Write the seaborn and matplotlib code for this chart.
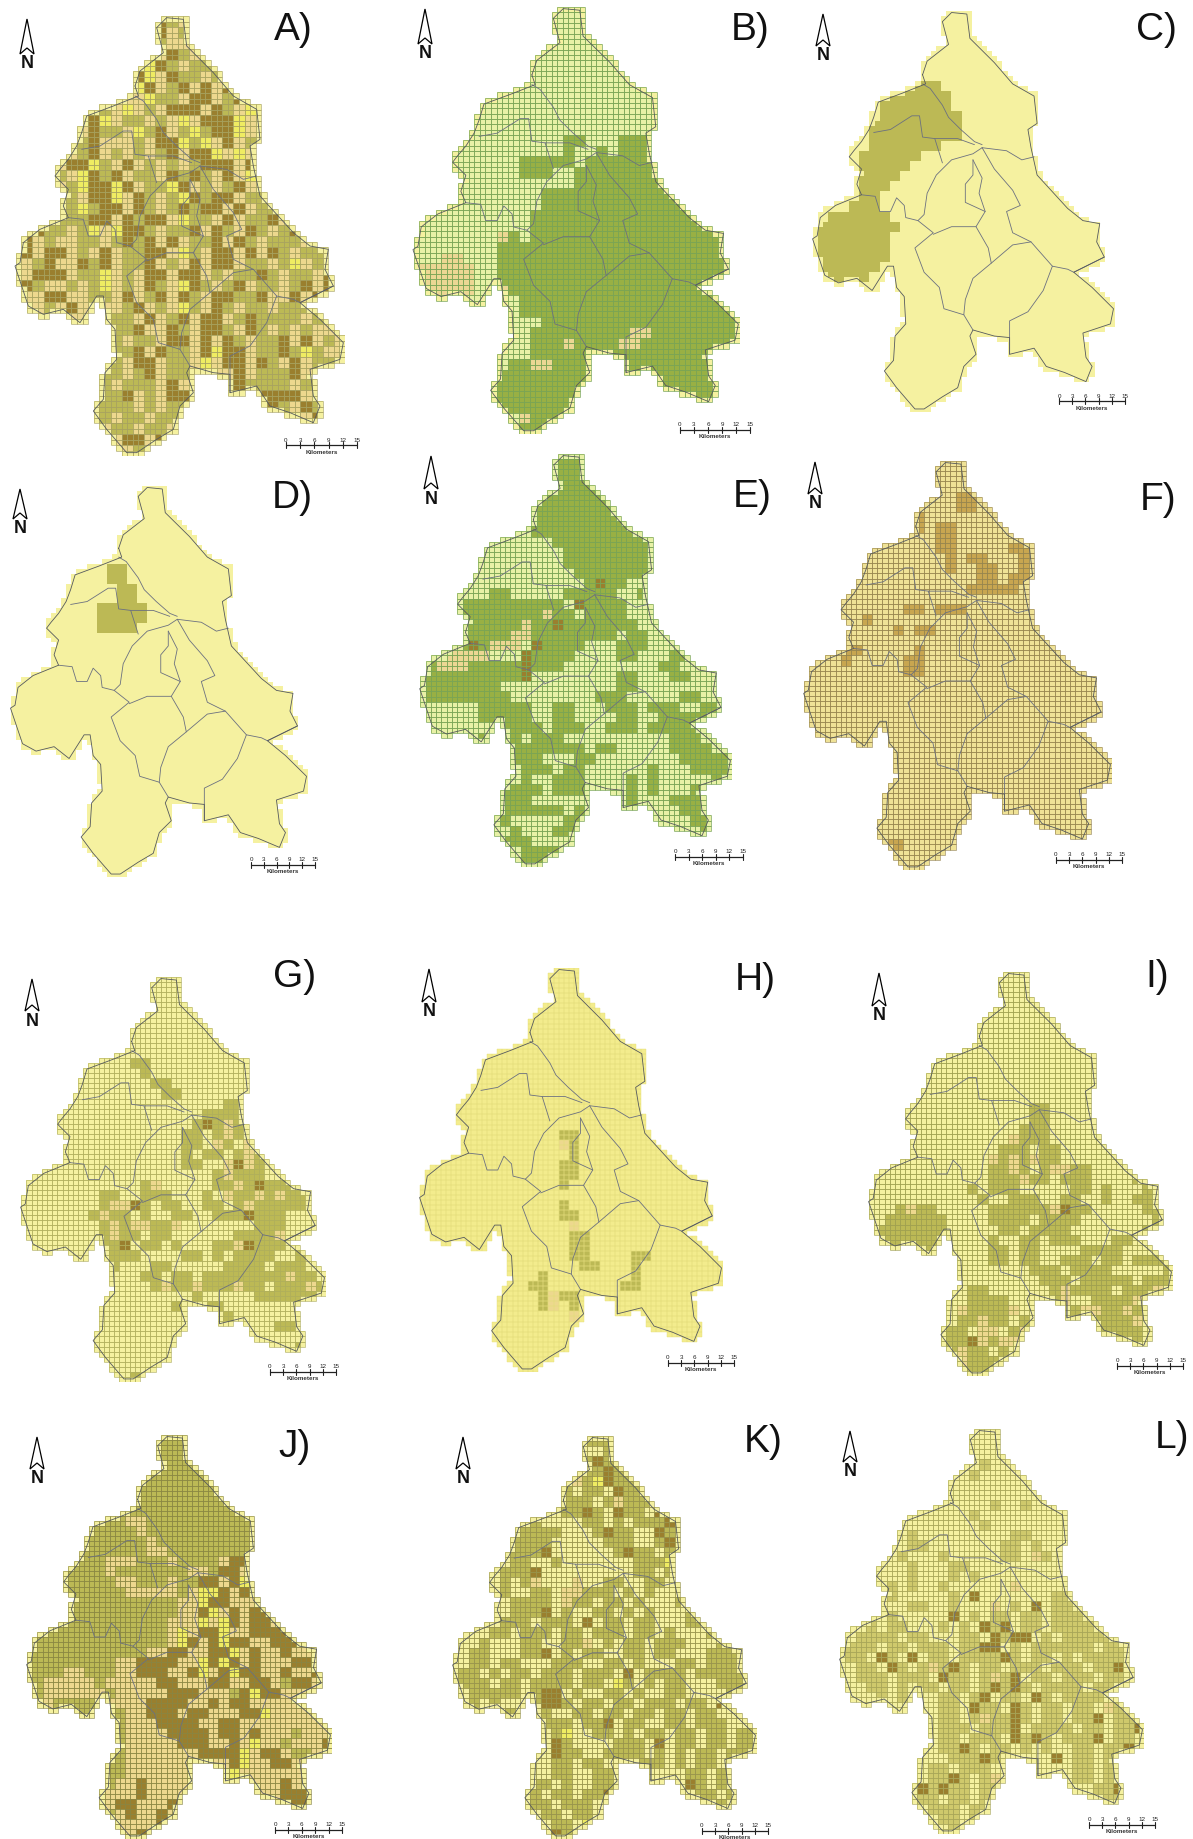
import numpy as np
import matplotlib
matplotlib.use("Agg")
import matplotlib.pyplot as plt
from matplotlib.colors import ListedColormap
from matplotlib.collections import LineCollection
from matplotlib.path import Path
import seaborn as sns

sns.set_theme(style="white")
plt.rcParams['font.family'] = ['Liberation Sans', 'DejaVu Sans']

# ---- class codes (coarse cells, 30 columns by 40 rows; '.' = panel base class)
CODES = "payobelgtfchn"
COLOURS = ["#f5f1a0", "#edd88e", "#efec62", "#bcb955", "#9a7f2e", "#c9a34f", "#e8f1a6", "#98b044",
           "#ecd793", "#efe296", "#c8a650", "#f3ec8d", "#cfc96c"]

ROWS_A = [
".............bo", ".............b.o", ".............o", "..............bo.o", "............ybo.oo",
"...........by.boo.oo", "...........yb.ob.b.b", ".........o..yoo.bb.ob", ".......oo.y.o.bbb.bo.y",
".......by.oo.o.y.bbby", ".......boo.yob.oyobby", "......ob...o.bbyoy.b.o", "......ob.o.o.ob.bby.y",
".....bbyo.b.o.o.obbb.bo", "....o.ybob.oo.bobo.b.yb", ".....oybbyb.ooyb.o.ob.oo", ".....o.bby.bo.oybobb.ooo",
".....oyobb.bo.obobb.b.oo", "....ooobb.bobb.yoo.b.oob.o", "..boo.oy.ybbo.oob.bo.bo.ob",
".b.o..oo.obob.b.oob.bo.ooo.b", ".b.bb.o.b.oobb.yo.bb.b.bo.oo", "..ob..bob.oob.o.b.bb.oo.oy.ob",
"..bbb.ooy.o.bb.bb.o.oobo.oo.b", ".bo..o.oy.o.bo.ybo.ob.oo.ob.b", "...bb..oo.b.ob.bo.bboob..b.bb",
"...o.b.o..ob.o.yo.bo.oo.ooo.o", ".......o.oo.b.ob.bb.oboooo.o", ".........oob..bo.bbo.bo.o.o",
".........o.oo.bb.b.bo.oob.b.o", ".........oob.boo.bybb.ooboyo..", ".........o.bb.oo.y.bb.bo.b.oo",
"........oo.ob.oob...b.ooob.o", "........o.ooo.b...o.boooo.oo", "........oob.o.bb....b.bbbb.o",
"........ooo.o.oo.......bo.boo", "........o.oo.ooo........oo.bo", ".........oo.oo.o", "..........bb.bo", "...........o",
]
ROWS_B = [""] * 12 + [
"..............gg...ggg", "..............g..g.ggg", "..........ggggg.ggggggg", "..........ggg..gggggggg",
"...............ggggggggggggggg", "............gggggggggggggggggg", "............gggggggggggggggggg",
"...........ggggggggggggggggggg", "...........ggggggggggggggggggg", "........tg.ggggggggggggggggggg",
"........gggggggggggggggggggggg", "...tt...gggggggggggggggggggggg", ".ttttt..gggggggggggggggggggggg",
".ttttt..gggggggggggggggggggggg", "..tttt..tggggggggggggggggggggg", "..........gggggggggggggggggggg",
"..........gggggggggggggggggggg", "............gggggggggggggggggg", "...........gggggggggttgggggggg",
"...........gggtggggttggggggggg", "...........ggggggggggggggggggg", ".........ggttggggggggggggggggg",
"........gggggggggggggggggggggg", "gggggggggggggggggggggggggggggg", "gggggggggggggggggggggggggggggg",
"gggggggggggggggggggggggggggggg", "..........tggggggggggggggggggg", "gggggggggggggggggggggggggggggg",
]
ROWS_C = [""] * 7 + [
"..........ooo", "........oooooo", ".......ooooooo", ".......oooooooo", "......ooooooooo", "......ooooooooo",
"......ooooooo", ".....oooooo", ".....ooooo", ".....oooo", ".....ooo", ".....oo", "....ooo", "..oooooo",
".oooooooo", "oooooooo", "oooooooo", "oooooooo", ".oooooo", "..oooo", "...oo",
]
ROWS_D = [""] * 8 + [
"..........oo", "..........oo", "...........oo", "...........oo", ".........ooooo", ".........ooooo", ".........oooo",
]
ROWS_E = ["g" * 30] * 7 + [
"...........ggggggggggggggggggg", ".............ggggggggggggggggg", "..............gggggggggggggggg",
"..............gggggggggggggggg", "...............ggggggggggggggg", "................gbgg.....gg",
".......gg.....ggggg..gggg", "....gggggggggg.bgggg..gggg", "....ggggggggtgg.gggg....gggg",
"....ggggggtggbggggggg....ggggg", "....gggggttgggggggg.gg...ggggg", "....gbgttt.bgggg...ggg...gggggg",
"...tttt...bgggg....gg...ggg", ".gtttgggggbggg.........gg", "ggggggggggb........gg...gg",
"gggggggg...........gg", "ggggggggg........ggg.....gg", "......ggggg..gg...ggg.ggg..gggg",
"......ggggg..gg....gg..gggggg", ".......ggggg.ggg..ggg.gggggg", "......gggg.ggg..........ggg.ggg",
".........ggggggg.gg.....gggg", ".........ggg...gg........ggggg", "..........ggg.gg......g...ggggg",
"..........g..ggg....g.g.....ggg", "........gggg.gggg...g.g...ggg", "........ggg.....gg..g...gggg",
"........gggggg.ggg.......ggg", "........g.....gg..........gggg", ".........g...gg............gg",
"........ggg.....g", "..........ggggg", ".........ggggg",
]
ROWS_F = ["", "", "", "...............cc", "...............cc", "...........c", "...........c.cc", ".............cc",
".............cc.....ccc", "..............c.cc...cc", "..............c..cc..cc", ".................cc.cc",
"................ccccc", "", "..........cc.ccc", "......c", ".........c.cc", "", "....cc.....c", "....c.....cc",
"..........cc", "", "", "", "", "", "", "", "", "", "", "", "", "", "", "", "", "........cc",
]
ROWS_G = [""] * 8 + [
"...........oo", "............o", ".............oo", "..............oo",
"....................oo", "..................oooo", ".................oboao.o", "................oo.oaob",
"................oo.ao.aao", "................o.oo.oao", "................oo..abao", "...................oaooo",
"............oa.....ooaobooo", "........oo..ooo...o.aooaoaoo", "........oaabo.oo..oo.oaooooo",
".......oaoo.o..oo..ooobooo", "........oaoaaooa.......ooo", "........oaoo.oo......ooooa",
"........oob.oo.o...ooabooo.oo", "........oooo....oo.o.oooo..oo", ".........o...oo.....oooo.ooo",
"............oo.oo.ooooooooaoo", ".............oaooaoooaoo.oooao", ".................o.....oooooo",
"...............oo.oo.........o", "...................oo", "...................oa....oo", "...................o",
"...........................oo", "", "", "...........oo",
]
ROWS_H = [""] * 16 + [
"..............oo", "..............ao", "...............o", "..............oo", "..............oo", "..............o",
"", "..............o", "..............oo", "...............a", "...............oo", "...............oo",
"...............oo....oo", "................oo...o", "............o........o", "...........oo.......oo",
"............oaooa", "............oa.oo", "...............ao",
]
ROWS_I = [""] * 13 + [
"................oo", "................oo", "...............ooo", "..............aooo",
".............ooo.oo", "............aoaoaoo", "............ooao.oaaoo", "............oooaoo.ooo....o",
"..........o.ooo.....oo.o...oo", "...........o..ooo..oo..o..oooo", "...oaoo.....ooooooaboo.....ooo",
"..oooooo....oooo.oooo.......oo", ".ooooooo.....oo.oooo.......oooo", ".oooooo.....o..oo.ooo...oo.ooo",
"..ooo.oo....oo.oo....oooo", "............oo.oo..ooo.oo.ooo", "................ooo.oooo.....o",
".................ooo.ooooo.ooo", "..........oo......oaoooo.oooao", "..........oooo....oa..ooooaooo",
".........aooooa.oaoooaaooaoooo", ".........ooaoo.oooooaoooooa", "........oo.aa.oa...aoaooooo",
"........oobaoaa....oooooooo", "........oaoo.o......oooooooo", "........oaooo.........oooooo",
"..........oooaooa..........ooo", "...........oooo",
]
ROWS_J = ["", "", "", "", "", "", "", "", "..........aa", "...........a", "............a", "............aa",
"........aaa...a....abbbba", "........a.......aa.bbaabbb", ".........aa...a..bbabyaybb.a",
"..........aaaaa.ayybababbba", "...............aaybbaaabbba", "...............aabyababbaaa",
"..............aaayaybabbaaaa", "..............ayabbyaabbbbaaa", "..............aybabybbaabbbaaa",
"............aabbaabbyabaabaaaa", ".........aabbbbaaybybabaaabbaa", "....aa...aabbbaabyabybbaabaaba",
"..aaaaa.aaaaabbaaabbaabbaobbaa", "..aaaaaa.aaaaabbbaaaobybbaaaba", "..a.....aaaabbbbaababbaaaaaaa",
"..........aabbbabbaaabbyaaaaaa", "..........aaabbbbaabbaaaaaaaaa", "..........aaaabbbbabbabaaaoaaa",
"..........aaaaabbbaabayaaoaaab", "..........aaaaaaabbbbyabbaooaa", "..........aaaaaaaaaabyaabbaaoa",
"..........aaaaaaaaaayaaaaaa", ".........aabaaaa.....aaaabaa", "........aaabaaaabaa...aaabbbaa",
"........abbaaabayba...ababbbba", ".........abaabaaby.......abbaa", ".........aaaababaa", "..........abbaa",
]
ROWS_K = [
"............booo", "............o..o", ".............obo", "............ooobo", "...........oaoyboo", "...........o.oo.boo",
"...........ooo.oaoooo", "...........oobo.boo.bo", ".......oo....oo.o.ooob", ".......oooo...oboo..bob", "......oooo.....ooo..oboa",
"......ooob......oboo.ooob", "......oo..o.......oooyoob", ".....ooob.........oo.o.oo", ".....o.oa...a..oo..oo.oa",
".....o..oo.aaooo.o.o..oo", "......oooo.aoo.oo.o...oooo", "......ooob.o..oo.o.o...ob", ".....ooo.ooo.b.oo.oo...oo",
"....oo.ooo.oo.ooo.oo.o...oo", "...o...oo..ooa.o.oo.ooo...oob", "..oo...oob.o.oo..oo.oo...ooo", "..oo.oo...ooo..oo.o...oo.oooob",
".oo.o.oo.ooo.ooo.b.oooo.ooooo", ".ooo.oo.oooo.oo.yo.o.oo...ooo", "..ooooo.obb.o..oo.o..oo....oo", "..o.o..oobbo.oo.oo.ooo.oo.bo",
"...oooo.oo..oo.oo.oo.oo.oo", ".....o..oooo.oob.oo..oo.ooo", "..........oy..oo.o.oo.oo.oo.oo", "..........bo....ooo.b.oo.oo.oo",
"..........boo..oooo.o.o.oo.ooo", "..........oo.oo..oooo.o.oo.oo", "..........oo..oo.......oo.oo", "........oo.o..oo.......bo.oo",
"........o.oo.oobo.....o.oo.oo", "........oo.ooo.oo........oo.oo", ".........oo.oo.oo", "..........oo.yo", "..........bo",
]
ROWS_L = [
"", "", "", "..............n", ".............n", "", "", "...............n..n", ".............n", "..............n",
".......n.........nn", ".......nn.......nn.n", "......n...n.....nn.an", ".......n...nn..........nn", ".......n...n.n.........bb",
".....n.n..n......a....nba", ".....n.....n.b.......nnn", ".......nn..n...a.n.b.nn.b", ".....n.....b.n.nn.nn.nnn", "...n.nn...n.n.bnb.nn.nnnn",
"..nnnn.nn...nn.bnbb.n.nnnnnn", ".nnn.nn.nnn.nnbb.n.nnnnnn.nn", ".nn.bn.b.nn.nnnnbn.nn.n.nnnn", "..nn.bn.nanbn.nn.nnn.nnn.nnb",
"..nnn.nnn.bnn.nanb.nn.nnn.nn", "...nn.n.nn.nn.nbnbn.nnnn.nn.n", "....n.nn..nn.nb.nn.bn.nnnn", "..........nn.bnn.bn.nn.nn.an",
"..........nn.nannbn.nn.nnb.nn", "..........nnn.nnnb.nnnn.nn.nnb", "..........nn.nnn.bnbn.nnnb.nn", "..........nnbn.nn.n.n..nn.nnb",
"...........nnnbn.n...b.nn.nn", ".........nn.nnn.nn.....nn.nnn", ".........nnbn.nabn.....nn.nnb", "........bnbnn.nn.........nnbn",
"........nn.nn.nn.........nnn", ".........nnn.nn", "..........nn.n", "...........n",
]
PANEL_ROWS = [ROWS_A, ROWS_B, ROWS_C, ROWS_D, ROWS_E, ROWS_F, ROWS_G, ROWS_H, ROWS_I, ROWS_J, ROWS_K, ROWS_L]
PANEL_NAMES = ["A)", "B)", "C)", "D)", "E)", "F)", "G)", "H)", "I)", "J)", "K)", "L)"]
PANEL_BASE = list("alpplfphpopp")
PANEL_FRINGE = list("pppplfphpppp")

# ---- outline and district borders, read in the coordinates of the crop of panel A
OUTLINE_X = [405, 415, 340, 260, 245, 230, 205, 180, 165, 205, 190, 205, 120, 70, 60, 45, 65, 85, 130, 190, 240, 290, 310, 320, 345,
             350, 315, 310, 280, 320, 380, 410, 470, 520, 540, 580, 560, 570, 640, 690, 690, 770, 810, 870, 940, 960, 940, 930, 1020,
             1030, 960, 900, 1000, 975, 985, 930, 880, 780, 760, 750, 780, 770, 700, 640, 560, 550, 500, 470, 490, 420]
OUTLINE_Y = [260, 290, 320, 350, 400, 440, 480, 510, 530, 570, 620, 655, 690, 730, 790, 800, 860, 920, 945, 930, 970, 890, 890, 960, 990,
             1080, 1120, 1200, 1235, 1290, 1360, 1360, 1320, 1290, 1220, 1180, 1120, 1100, 1120, 1125, 1180, 1160, 1220, 1240, 1270, 1220,
             1190, 1110, 1080, 1030, 960, 910, 860, 810, 750, 740, 700, 590, 500, 440, 420, 330, 290, 220, 140, 60, 55, 85, 160, 215]
BORDER_X = [[405, 430, 470, 490, 530, 575, 600], [245, 300, 370, 395, 405, 445, 520, 575], [445, 470],
            [600, 570, 500, 450, 420, 410, 390], [205, 250, 265, 300, 320, 345, 350, 390, 440, 380, 410, 460, 475, 540],
            [440, 500, 540, 580, 620, 630, 570, 545, 540, 570], [630, 700, 760, 830, 800, 750, 690, 690],
            [600, 640, 700, 725, 680, 700, 760], [600, 680, 730, 770], [570, 570, 545, 545, 610, 580],
            [830, 880, 900, 1000], [570, 600, 590, 610]]
BORDER_Y = [[290, 305, 360, 400, 440, 480, 490], [450, 440, 395, 395, 465, 470, 470, 490], [470, 550],
            [500, 520, 540, 590, 650, 720, 740], [655, 660, 710, 710, 665, 690, 730, 740, 780, 830, 910, 960, 1030, 1050],
            [785, 760, 760, 760, 830, 880, 930, 1000, 1050, 1100], [880, 820, 810, 890, 970, 1040, 1070, 1180],
            [500, 570, 640, 690, 710, 780, 810], [500, 510, 540, 530], [540, 590, 620, 680, 710, 760],
            [890, 900, 910, 860], [540, 600, 650, 710]]
SCALE_LABELS = ["0", "3", "6", "9", "12", "15"]

# ---- layout and style (pixels of the 1193x1840 picture)
BOXES = [(10, 17, 345, 457), (408, 8, 740, 435), (808, 12, 1115, 413), (6, 487, 308, 878),
         (415, 455, 732, 868), (799, 462, 1112, 871), (16, 978, 326, 1383), (415, 969, 723, 1373),
         (864, 973, 1173, 1377), (22, 1436, 332, 1840), (448, 1437, 757, 1840), (835, 1430, 1144, 1835)]
GRID_COL = ["#a8a360", "#7aa555", "#f0eb96", "#f0eb96", "#7aa555", "#96854e",
            "#b0af5c", "#e6de7c", "#a0a050", "#8a8642", "#98944c", "#a8a658"]
GRID_LW = [0.45, 0.5, 0, 0, 0.5, 0.45, 0.45, 0.3, 0.45, 0.45, 0.45, 0.45]
LABEL_POS = [(293, 30), (750, 30), (1156, 30), (292, 498), (752, 497), (1158, 500),
             (295, 977), (755, 980), (1157, 977), (295, 1447), (763, 1442), (1172, 1438)]
ARROWS = [(27, 20, 55), (425, 10, 45), (823, 15, 47), (20, 490, 520), (431, 457, 490), (815, 463, 495),
          (32, 980, 1012), (429, 970, 1003), (879, 974, 1007), (37, 1438, 1470), (463, 1438, 1470), (850, 1432, 1463)]
SCALES = [(286, 357, 446), (680, 750, 431), (1059, 1125, 402), (251, 315, 866), (675, 743, 858), (1056, 1122, 861),
          (270, 336, 1373), (668, 734, 1364), (1117, 1183, 1367), (275, 342, 1831), (702, 768, 1832), (1089, 1155, 1826)]

W, H = 1193, 1840
NCOL, NROW = 60, 80
fig = plt.figure(figsize=(W / 100, H / 100), dpi=100, facecolor="white")
cmap = ListedColormap(COLOURS)


def to_x(v):
    return (np.asarray(v, float) - 30) / 1005 * NCOL


def to_y(v):
    return (np.asarray(v, float) - 50) / 1320 * NROW


outline = Path(np.column_stack([to_x(OUTLINE_X), to_y(OUTLINE_Y)]))
gx, gy = np.meshgrid(np.arange(NCOL + 1), np.arange(NROW + 1))
corners = outline.contains_points(np.column_stack([gx.ravel(), gy.ravel()])).reshape(gx.shape)
count = corners[:-1, :-1].astype(int) + corners[1:, :-1] + corners[:-1, 1:] + corners[1:, 1:]
outside = count == 0
fringe = (count > 0) & (count < 3)

# cell edges of the silhouette, used for the grid that overlays the cells
segments = []
for ry in range(NROW):
    for cx in range(NCOL):
        if not outside[ry, cx]:
            segments += [[(cx, ry), (cx + 1, ry)], [(cx, ry + 1), (cx + 1, ry + 1)],
                         [(cx, ry), (cx, ry + 1)], [(cx + 1, ry), (cx + 1, ry + 1)]]

for i, rows in enumerate(PANEL_ROWS):
    l, t, r, b = BOXES[i]
    ax = fig.add_axes([l / W, 1 - b / H, (r - l) / W, (b - t) / H])
    base = PANEL_BASE[i]
    padded = ([(s + "." * 30)[:30] for s in rows] + ["." * 30] * 40)[:40]
    coarse = np.array([[CODES.index(base if c == "." else c) for c in s] for s in padded])
    fine = np.repeat(np.repeat(coarse, 2, axis=0), 2, axis=1).astype(float)
    fine[fringe] = CODES.index(PANEL_FRINGE[i])
    sns.heatmap(fine, mask=outside, cmap=cmap, vmin=-0.5, vmax=len(COLOURS) - 0.5, cbar=False,
                xticklabels=False, yticklabels=False, ax=ax)
    ax.set_xlim(0, NCOL)
    ax.set_ylim(NROW, 0)
    ax.axis("off")
    if GRID_LW[i] > 0:
        ax.add_collection(LineCollection(segments, colors=GRID_COL[i], linewidths=GRID_LW[i], zorder=2))
    for bx, by in zip(BORDER_X, BORDER_Y):
        ax.plot(to_x(bx), to_y(by), color="#6b7080", lw=0.6, solid_joinstyle="round", zorder=3)
    ax.plot(np.r_[to_x(OUTLINE_X), to_x(OUTLINE_X[0])], np.r_[to_y(OUTLINE_Y), to_y(OUTLINE_Y[0])],
            color="#55595e", lw=0.6, solid_joinstyle="round", zorder=3)

over = fig.add_axes([0, 0, 1, 1], zorder=5)
over.set_xlim(0, W)
over.set_ylim(H, 0)
over.axis("off")
over.patch.set_alpha(0)
for name, (lx, ly) in zip(PANEL_NAMES, LABEL_POS):
    over.text(lx, ly, name, fontsize=28, ha="center", va="center", color="#111111")
for ax_, y0, y1 in ARROWS:
    over.fill([ax_, ax_ - 7, ax_, ax_ + 7, ax_], [y0, y1, y1 - 6, y1, y0], facecolor="white", edgecolor="black", lw=0.9)
    over.text(ax_, y1 + 9, "N", fontsize=13, fontweight="bold", ha="center", va="center", color="#111111")
for x0, x1, y in SCALES:
    over.plot([x0, x1], [y, y], color="#222222", lw=0.9)
    for k, lab in enumerate(SCALE_LABELS):
        xk = x0 + (x1 - x0) * k / 5
        over.plot([xk, xk], [y - 3, y + 3], color="#222222", lw=0.8)
        over.text(xk, y - 6, lab, fontsize=4.5, ha="center", va="center", color="#222222")
    over.text((x0 + x1) / 2, y + 6, "Kilometers", fontsize=4.5, fontweight="bold", ha="center", va="center", color="#333333")

fig.savefig("out.png", dpi=100)
